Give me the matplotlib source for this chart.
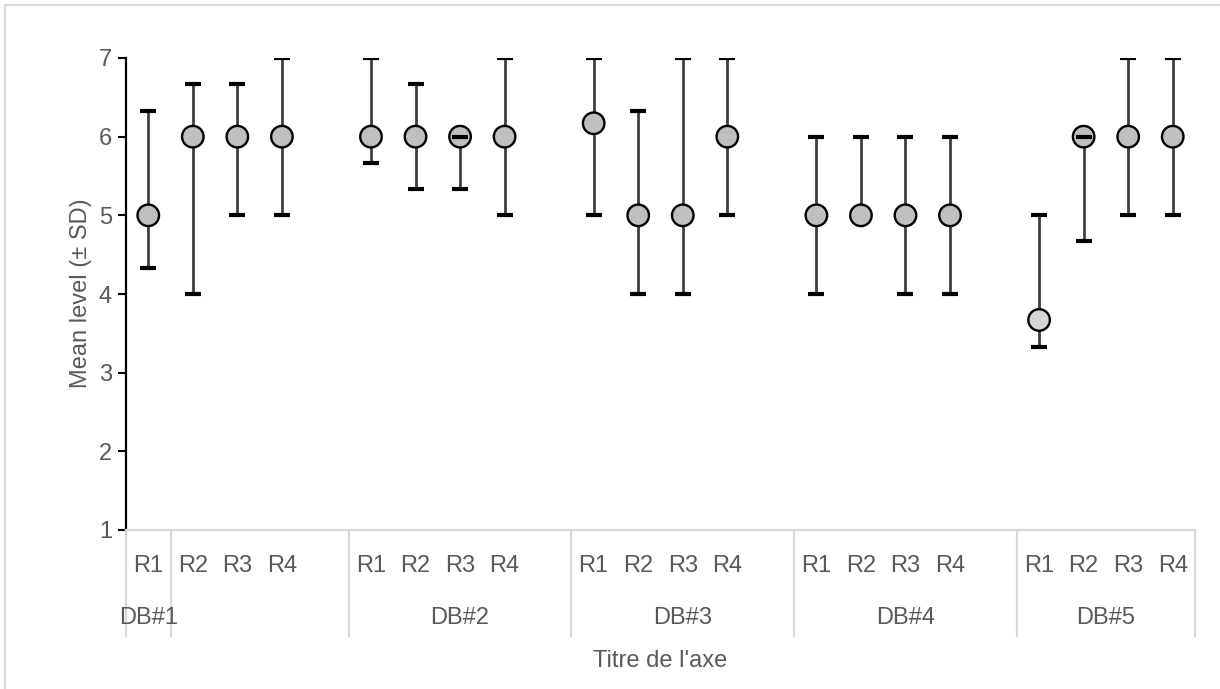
import matplotlib.pyplot as plt
from matplotlib.lines import Line2D
from matplotlib.transforms import blended_transform_factory
import numpy as np

plt.rcParams["font.family"] = ["Liberation Sans", "DejaVu Sans"]

groups = ["DB#1", "DB#2", "DB#3", "DB#4", "DB#5"]
reps = ["R1", "R2", "R3", "R4"]

# mean and the top / bottom of each error bar, in DB then R order
# (None = no bar on that side)
means = [5.0, 6.0, 6.0, 6.0,
         6.0, 6.0, 6.0, 6.0,
         6.17, 5.0, 5.0, 6.0,
         5.0, 5.0, 5.0, 5.0,
         3.67, 6.0, 6.0, 6.0]
upper = [6.33, 6.67, 6.67, 7.0,
         7.0, 6.67, 6.0, 7.0,
         7.0, 6.33, 7.0, 7.0,
         6.0, 6.0, 6.0, 6.0,
         5.0, 6.0, 7.0, 7.0]
lower = [4.33, 4.0, 5.0, 5.0,
         5.67, 5.33, 5.33, 5.0,
         5.0, 4.0, 4.0, 5.0,
         4.0, None, 4.0, 4.0,
         3.33, 4.67, 5.0, 5.0]

TXT = "#595959"
GRID = "#d9d9d9"
FS = 17

W, H = 1220, 689
fig = plt.figure(figsize=(W / 100, H / 100), dpi=100)
ax = fig.add_axes([126 / W, 1 - 530 / H, (1195 - 126) / W, (530 - 58) / H])

# one empty slot between DB groups
x = np.array([g * 5 + r for g in range(len(groups)) for r in range(len(reps))])
means = np.array(means)
up = np.array(upper)
lo = np.array([m if v is None else v for v, m in zip(lower, means)])

# bars behind the markers, caps in front of them
ax.vlines(x, lo, up, color="#404040", lw=2, zorder=2)
ax.plot(x, up, ls="none", marker="_", ms=12, mew=3, color="black", zorder=4)
has_lo = np.array([v is not None for v in lower])
ax.plot(x[has_lo], lo[has_lo], ls="none", marker="_", ms=12, mew=3,
        color="black", zorder=4)

face = ["#bfbfbf"] * len(x)
face[16] = "#d6d6d6"
ax.scatter(x, means, s=15.5 ** 2, c=face, edgecolors="black", linewidths=1.7, zorder=3)

ax.set_xlim(-0.5, 23.5)
ax.set_ylim(1, 7)
ax.set_yticks(range(1, 8))
ax.set_xticks([])
for s in ["top", "right"]:
    ax.spines[s].set_visible(False)
ax.spines["left"].set_linewidth(1.6)
ax.spines["bottom"].set_color(GRID)
ax.spines["bottom"].set_linewidth(1.6)
ax.tick_params(axis="y", length=6, width=1.5, pad=4, labelsize=FS, labelcolor=TXT)

# category axis drawn by hand (Excel multi-level labels)
tr = blended_transform_factory(ax.transData, fig.transFigure)
for xi, g in zip(x, [r for _ in groups for r in reps]):
    ax.text(xi, 1 - 566 / H, g, transform=tr, ha="center", va="center",
            fontsize=FS, color=TXT)

bounds = [-0.5, 0.5] + [g * 5 - 0.5 for g in range(1, len(groups))] + [23.5]
for b in bounds:
    ax.add_line(Line2D([b, b], [1 - 530 / H, 1 - 636 / H], transform=tr,
                       color=GRID, lw=1.6, clip_on=False))

centers = [0] + [(g * 5 - 0.5 + min(g * 5 + 4.5, 23.5)) / 2 for g in range(1, len(groups))]
for c, g in zip(centers, groups):
    ax.text(c, 1 - 618 / H, g, transform=tr, ha="center", va="center",
            fontsize=FS, color=TXT)

fig.text(660 / W, 1 - 661 / H, "Titre de l'axe", ha="center", va="center",
         fontsize=FS, color=TXT)
fig.text(81 / W, 1 - 293 / H, "Mean level (± SD)", ha="center", va="center",
         rotation=90, fontsize=FS, color=TXT)

# chart area border
fig.add_artist(Line2D([5 / W, 5 / W], [0, 1 - 5 / H], color=GRID, lw=1.6))
fig.add_artist(Line2D([5 / W, 1], [1 - 5 / H, 1 - 5 / H], color=GRID, lw=1.6))

fig.savefig("out.png", dpi=100)
